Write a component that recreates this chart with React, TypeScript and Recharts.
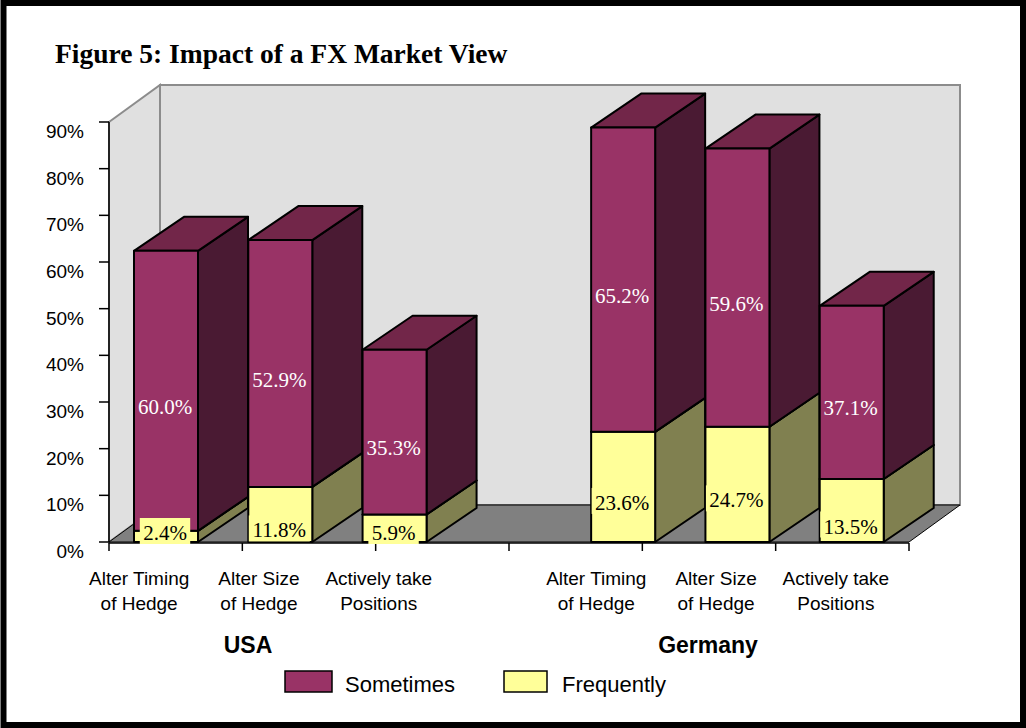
import React from 'react';
import { BarChart, Bar, XAxis, YAxis, LabelList } from 'recharts';

const categories = [
  'Alter Timing|of Hedge',
  'Alter Size|of Hedge',
  'Actively take|Positions',
  '',
  'Alter Timing|of Hedge',
  'Alter Size|of Hedge',
  'Actively take|Positions',
];
const frequently: (number | null)[] = [2.4, 11.8, 5.9, null, 23.6, 24.7, 13.5];
const sometimes: (number | null)[] = [60.0, 52.9, 35.3, null, 65.2, 59.6, 37.1];
const yTicks = [0, 10, 20, 30, 40, 50, 60, 70, 80, 90];
const slotEdges = [0, 1, 2, 3, 4, 5, 6, 7];
const groupNames = ['USA', 'Germany'];
const seriesNames = ['Sometimes', 'Frequently'];

const data = categories.map((label, i) => ({
  key: `c${i}`,
  label,
  frequently: frequently[i],
  sometimes: sometimes[i],
}));

const W = 1026;
const H = 728;
// plot area (front plane)
const PL = 109;
const PR = 909;
const PT = 122;
const PB = 542;
// depth of walls / bars
const WDX = 51;
const WDY = 37;
const DX = 50;
const DY = 34;

const SANS = '"Liberation Sans", Arial, sans-serif';
const SERIF = '"Liberation Serif", "Times New Roman", serif';

const colors = {
  sometimes: { front: '#993366', top: '#722649', side: '#4a1a33' },
  frequently: { front: '#ffff99', top: '#c0c070', side: '#808050' },
};

function Box3D(props: any) {
  const { x, y, width: w, height: h, face } = props;
  if (x == null || !h || h <= 0) return null;
  const edge = { stroke: '#000', strokeWidth: 2, strokeLinejoin: 'round' as const };
  return (
    <g>
      <polygon
        points={`${x + w},${y} ${x + w + DX},${y - DY} ${x + w + DX},${y + h - DY} ${x + w},${y + h}`}
        fill={face.side}
        {...edge}
      />
      <polygon
        points={`${x},${y} ${x + DX},${y - DY} ${x + w + DX},${y - DY} ${x + w},${y}`}
        fill={face.top}
        {...edge}
      />
      <rect x={x} y={y} width={w} height={h} fill={face.front} {...edge} />
    </g>
  );
}

const makeLabel = (textColor: string, boxColor?: string) => (props: any) => {
  const { value } = props;
  if (value == null) return null;
  const vb = props.viewBox || props;
  const x = props.x ?? vb.x;
  const y = props.y ?? vb.y;
  const w = props.width ?? vb.width;
  const h = props.height ?? vb.height;
  const cx = x + w / 2 - 1;
  const cy = Math.min(y + h / 2 + 16, 533);
  const text = `${Number(value).toFixed(1)}%`;
  const tw = text.length * 10.6;
  return (
    <g>
      {boxColor && <rect x={cx - tw / 2 - 4} y={cy - 15} width={tw + 8} height={26} fill={boxColor} />}
      <text x={cx} y={cy + 7} textAnchor="middle" fontFamily={SERIF} fontSize={21} fill={textColor}>
        {text}
      </text>
    </g>
  );
};

const YTick = (props: any) => {
  const { x, y, payload } = props;
  return (
    <text x={x} y={y + 16} textAnchor="end" fontFamily={SANS} fontSize={19} fill="#000">
      {payload.value}%
    </text>
  );
};

const NoLabel = () => null;

const CatTick = (props: any) => {
  const { x, y, payload, index } = props;
  const row = data.find((d) => d.key === payload.value);
  if (!row || !row.label) return null;
  const lines = row.label.split('|');
  const nudge = -27 + 5.5 * (index % 4);
  return (
    <text x={x + nudge} y={y} textAnchor="middle" fontFamily={SANS} fontSize={19} fill="#000">
      {lines.map((l, i) => (
        <tspan key={i} x={x + nudge} y={y + 43 + i * 25}>
          {l}
        </tspan>
      ))}
    </text>
  );
};

function Backdrop() {
  return (
    <svg width={W} height={H} style={{ position: 'absolute', left: 0, top: 0 }}>
      <rect x={0} y={0} width={W} height={H} fill="#fff" />
      <rect x={3.5} y={3} width={W - 6.5} height={H - 6} fill="none" stroke="#000" strokeWidth={6} />
      <text x={55} y={63} fontFamily={SERIF} fontWeight="bold" fontSize={27.5} fill="#000">
        Figure 5: Impact of a FX Market View
      </text>
      {/* left wall */}
      <polygon
        points={`${PL},${PT} ${PL + WDX},${PT - WDY} ${PL + WDX},${PB - WDY} ${PL},${PB}`}
        fill="#e0e0e0"
        stroke="#8c8c8c"
        strokeWidth={2}
      />
      {/* back wall */}
      <rect
        x={PL + WDX}
        y={PT - WDY}
        width={PR - PL}
        height={PB - PT}
        fill="#e0e0e0"
        stroke="#8c8c8c"
        strokeWidth={2}
      />
      {/* floor */}
      <polygon
        points={`${PL},${PB} ${PL + WDX},${PB - WDY} ${PR + WDX},${PB - WDY} ${PR},${PB}`}
        fill="#808080"
        stroke="#000"
        strokeWidth={1}
      />
      <text x={248} y={653} textAnchor="middle" fontFamily={SANS} fontWeight="bold" fontSize={23} fill="#000">
        {groupNames[0]}
      </text>
      <text x={708} y={653} textAnchor="middle" fontFamily={SANS} fontWeight="bold" fontSize={23} fill="#000">
        {groupNames[1]}
      </text>
      {/* legend */}
      <rect x={285} y={671} width={47} height={21} fill={colors.sometimes.front} stroke="#000" strokeWidth={1.5} />
      <text x={345} y={692} fontFamily={SANS} fontSize={22} fill="#000">
        {seriesNames[0]}
      </text>
      <rect x={504} y={671} width={43} height={21} fill={colors.frequently.front} stroke="#000" strokeWidth={1.5} />
      <text x={562} y={692} fontFamily={SANS} fontSize={22} fill="#000">
        {seriesNames[1]}
      </text>
    </svg>
  );
}

export default function App() {
  return (
    <div style={{ position: 'absolute', left: 0, top: 0, width: W, height: H }}>
      <Backdrop />
      <div style={{ position: 'absolute', left: 0, top: 0 }}>
        <BarChart
          width={W}
          height={H}
          data={data}
          margin={{ top: PT, right: W - PR, bottom: H - PB - 100, left: PL - 100 }}
          barSize={64}
        >
          <XAxis
            xAxisId="edge"
            type="number"
            domain={[0, 7]}
            ticks={slotEdges}
            allowDataOverflow
            interval={0}
            tick={<NoLabel />}
            tickSize={8}
            height={99}
            axisLine={{ stroke: '#000', strokeWidth: 1.5 }}
            tickLine={{ stroke: '#000', strokeWidth: 1.5 }}
          />
          <XAxis
            xAxisId="cat"
            dataKey="key"
            height={1}
            axisLine={false}
            tickLine={false}
            tickSize={0}
            tickMargin={0}
            interval={0}
            tick={<CatTick />}
          />
          <YAxis
            domain={[0, 90]}
            ticks={yTicks}
            interval={0}
            width={100}
            tickSize={10}
            tickMargin={15}
            axisLine={{ stroke: '#000', strokeWidth: 1.5 }}
            tickLine={{ stroke: '#000', strokeWidth: 1.5 }}
            tick={<YTick />}
          />
          <Bar
            xAxisId="cat"
            dataKey="frequently"
            stackId="a"
            isAnimationActive={false}
            shape={(p: any) => <Box3D {...p} face={colors.frequently} />}
          >
            <LabelList dataKey="frequently" content={makeLabel('#000', colors.frequently.front)} />
          </Bar>
          <Bar
            xAxisId="cat"
            dataKey="sometimes"
            stackId="a"
            isAnimationActive={false}
            shape={(p: any) => <Box3D {...p} face={colors.sometimes} />}
          >
            <LabelList dataKey="sometimes" content={makeLabel('#fff')} />
          </Bar>
        </BarChart>
      </div>
    </div>
  );
}
